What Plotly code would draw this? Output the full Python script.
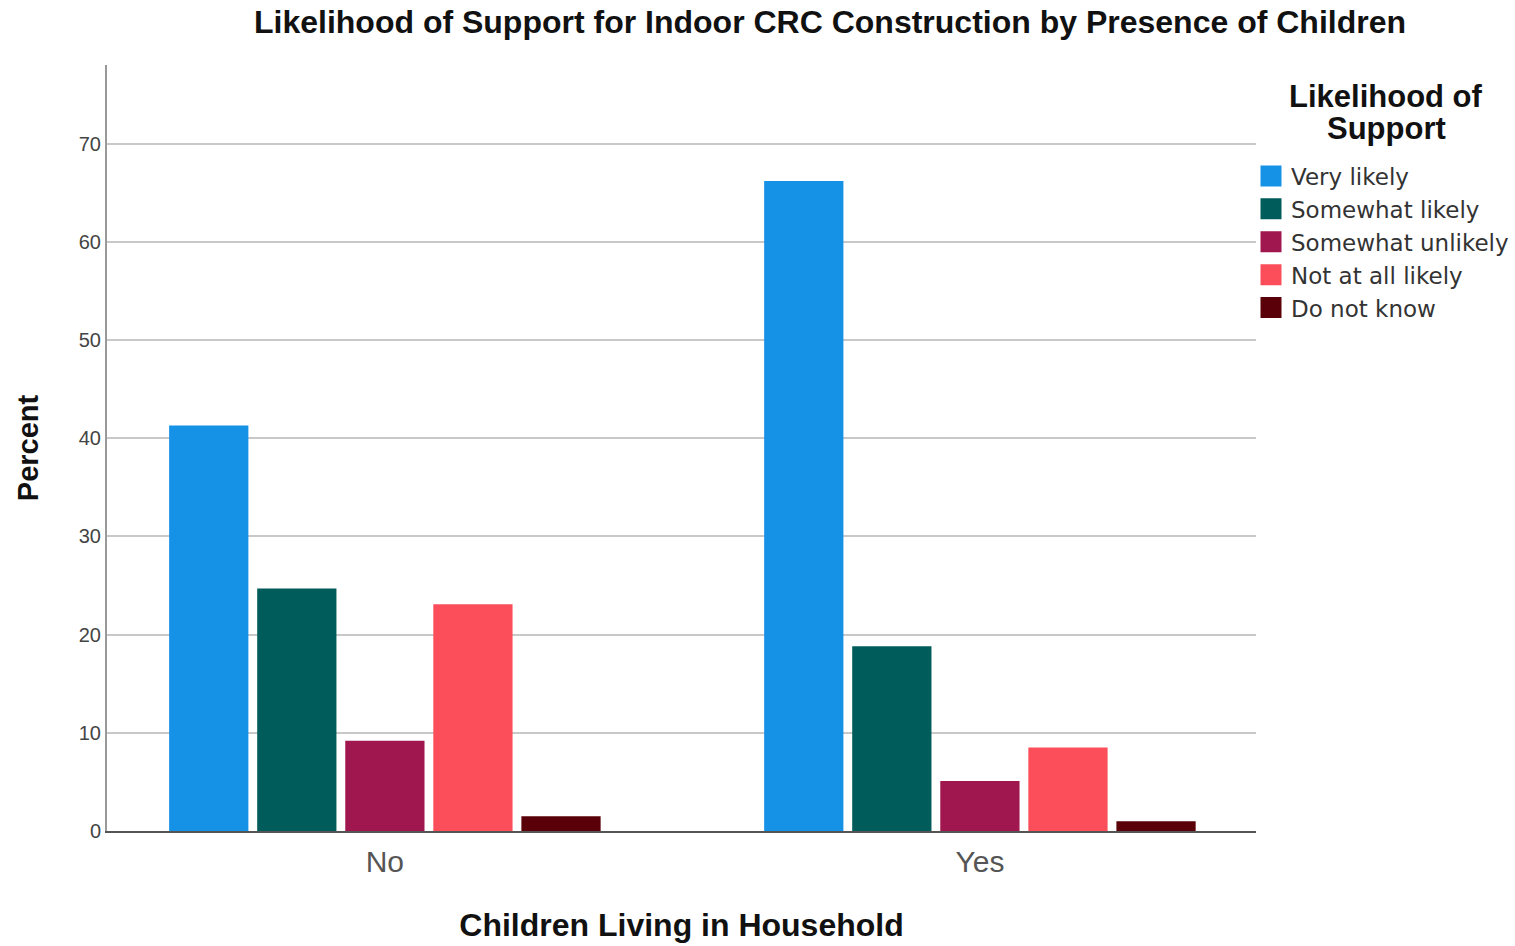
import plotly.graph_objects as go

categories = ["No", "Yes"]
series_names = ["Very likely", "Somewhat likely", "Somewhat unlikely", "Not at all likely", "Do not know"]
very_likely = [41.3, 66.2]
somewhat_likely = [24.7, 18.8]
somewhat_unlikely = [9.2, 5.1]
not_at_all_likely = [23.1, 8.5]
do_not_know = [1.5, 1.0]
colors = ["#1591E6", "#005C5A", "#A0174F", "#FB4E5A", "#5A0008"]

values = [very_likely, somewhat_likely, somewhat_unlikely, not_at_all_likely, do_not_know]

fig = go.Figure()
for name, vals, col in zip(series_names, values, colors):
    fig.add_trace(go.Bar(x=categories, y=vals, name=name, showlegend=False,
                         marker=dict(color=col, line=dict(width=0))))
# legend entries with larger square swatches
for name, col in zip(series_names, colors):
    fig.add_trace(go.Scatter(x=[None], y=[None], mode="markers", name=name,
                             marker=dict(symbol="square", size=16, color=col,
                                         line=dict(color=col, width=5))))

font_family = "Arial, Liberation Sans, sans-serif"
W, H = 1515, 946
L, R, T, B = 107, 259, 65, 115
PW = W - L - R
PH = H - T - B

fig.update_layout(
    width=W, height=H,
    paper_bgcolor="white", plot_bgcolor="white",
    barmode="group", bargap=0.26, bargroupgap=0.1,
    margin=dict(l=L, r=R, t=T, b=B, autoexpand=False),
    title=dict(text="<b>Likelihood of Support for Indoor CRC Construction by Presence of Children</b>",
               x=830 / W, xanchor="center", y=1 - 22 / H, yanchor="middle",
               font=dict(family=font_family, size=32, color="#111")),
    font=dict(family=font_family, color="#222"),
    showlegend=True,
    legend=dict(
        x=1.0 - 5 / PW, xanchor="left", y=(831 - 154.5) / 766, yanchor="top",
        font=dict(family="DejaVu Sans, Verdana, sans-serif", size=23, color="#333"),
        itemsizing="trace", tracegroupgap=0,
        bgcolor="rgba(0,0,0,0)",
    ),
    xaxis=dict(
        title=dict(text="<b>Children Living in Household</b>", font=dict(size=32, color="#111"), standoff=37),
        tickfont=dict(size=30, color="#555"),
        ticklabelstandoff=3,
        range=[-0.467, 1.464],
        showline=True, linecolor="#555", linewidth=2,
        showgrid=False, ticks="",
    ),
    yaxis=dict(
        title=dict(text="<b>Percent</b>", font=dict(size=29, color="#111"), standoff=32),
        range=[0, 78], dtick=10, tick0=0,
        tickfont=dict(size=20, color="#444"),
        showline=True, linecolor="#999", linewidth=2,
        showgrid=True, gridcolor="#C8C8C8", gridwidth=2,
        zeroline=False, ticks="",
    ),
    annotations=[
        dict(text="<b>Likelihood of</b>", xref="paper", yref="paper",
             x=(1386 - 107) / PW, y=(831 - 97) / 766, xanchor="center", yanchor="middle",
             showarrow=False, font=dict(family=font_family, size=31, color="#111")),
        dict(text="<b>Support</b>", xref="paper", yref="paper",
             x=(1386 - 107) / PW, y=(831 - 128) / 766, xanchor="center", yanchor="middle",
             showarrow=False, font=dict(family=font_family, size=31, color="#111")),
    ],
)

fig.write_html("out.html", config={"displayModeBar": False},
               post_script="document.body.style.margin='0';")
